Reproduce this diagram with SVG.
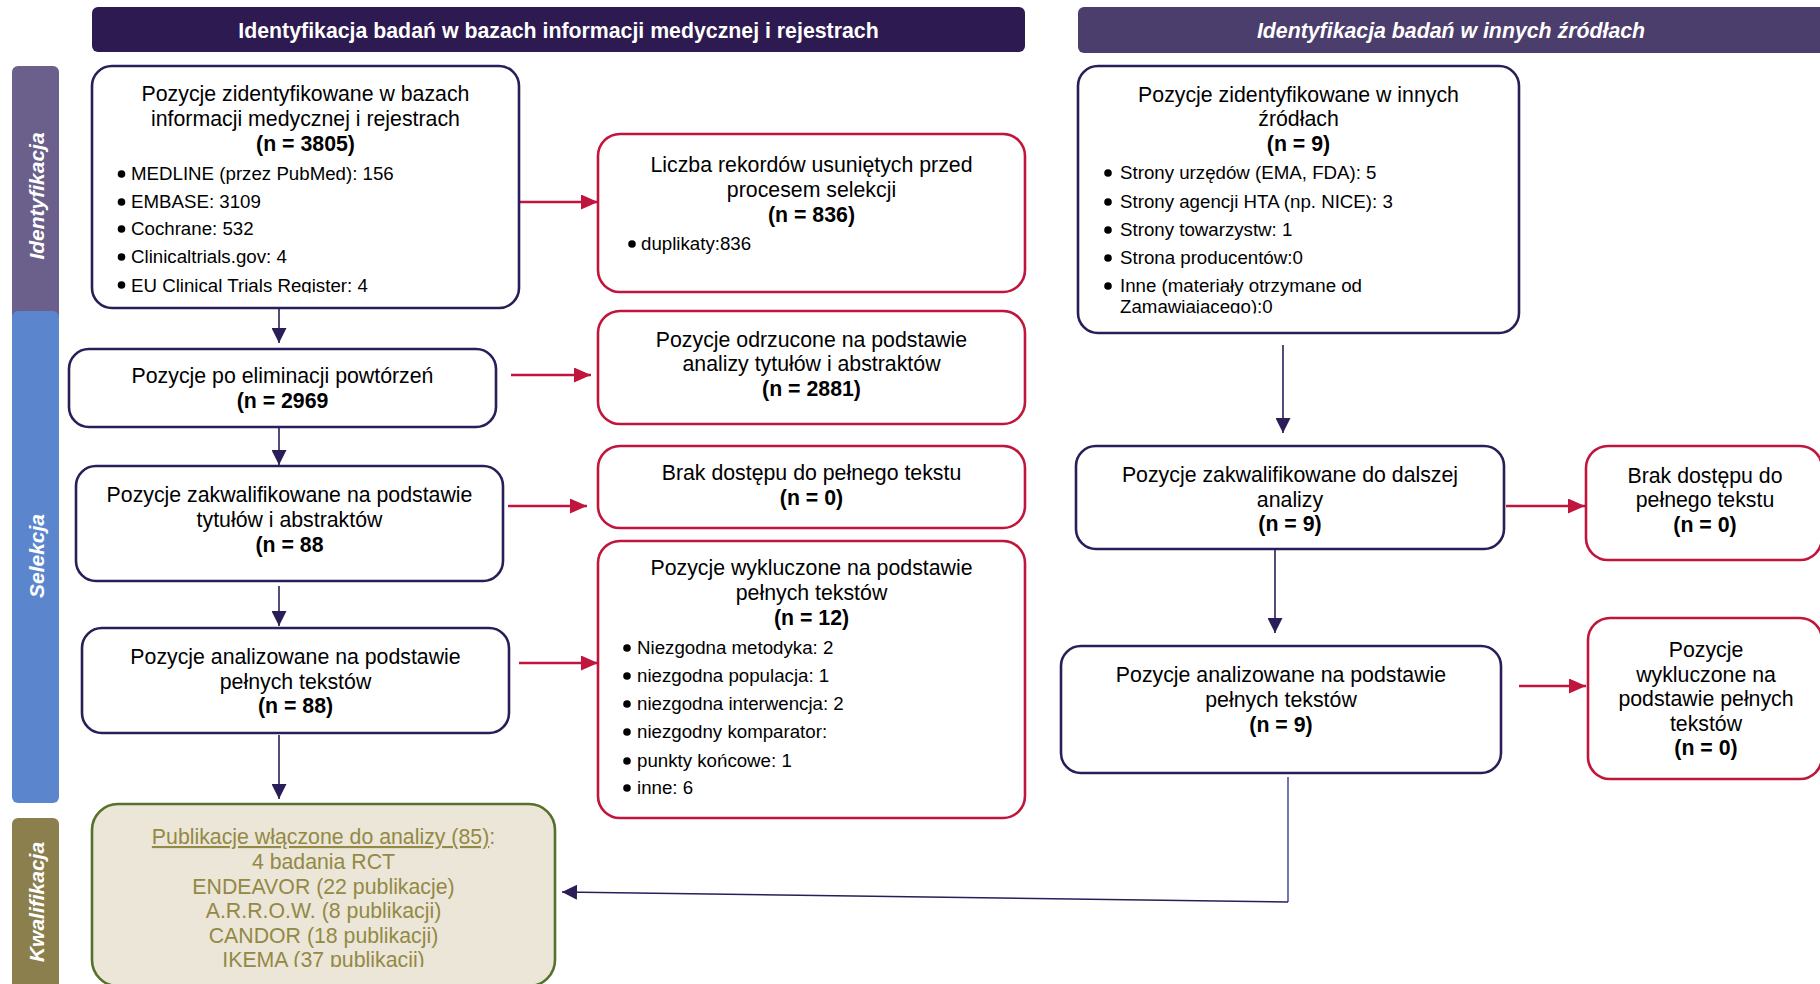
<svg xmlns="http://www.w3.org/2000/svg" width="1820" height="984" viewBox="0 0 1820 984">
  <style>
    text { font-family: "Liberation Sans", Arial, sans-serif; fill: #000; }
    .hdr { font-size: 21.3px; font-weight: bold; fill: #fff; text-anchor: middle; }
    .band { font-size: 21px; font-weight: bold; font-style: italic; fill: #fff; text-anchor: middle; }
    .t { font-size: 21.3px; text-anchor: middle; }
    .n { font-weight: bold; }
    .b { font-size: 18.7px; }
    .dot { fill: #000; }
    .nbox { fill: #fff; stroke: #2b1d57; stroke-width: 2.6; }
    .rbox { fill: #fff; stroke: #c0153c; stroke-width: 2.6; }
    .fbox { fill: #ebe6d7; stroke: #55712b; stroke-width: 2.6; }
    .ft { font-size: 21.3px; text-anchor: middle; fill: #938945; }
    .cn { fill: none; stroke: #2b1d57; stroke-width: 1.6; }
    .cr { fill: none; stroke: #c0153c; stroke-width: 2.6; }
  </style>
  <defs>
    <marker id="ahNavy" markerUnits="userSpaceOnUse" markerWidth="15" markerHeight="15" refX="15" refY="7.5" orient="auto">
      <path d="M0,0 L15,7.5 L0,15 z" fill="#2b1d57"/>
    </marker>
    <marker id="ahRed" markerUnits="userSpaceOnUse" markerWidth="17" markerHeight="15" refX="17" refY="7.5" orient="auto">
      <path d="M0,0 L17,7.5 L0,15 z" fill="#c0153c"/>
    </marker>
    <clipPath id="clipA"><rect x="92" y="66" width="427" height="227"/></clipPath>
    <clipPath id="clipJ"><rect x="1078" y="66" width="441" height="247.5"/></clipPath>
    <clipPath id="clipI"><rect x="92" y="804" width="463" height="163"/></clipPath>
  </defs>

  <!-- column headers -->
  <g id="header-databases">
    <rect x="92" y="7" width="933" height="45" rx="6" fill="#2c1a50"/>
    <text class="hdr" x="558.5" y="38">Identyfikacja badań w bazach informacji medycznej i rejestrach</text>
  </g>
  <g id="header-other">
    <rect x="1078" y="7" width="760" height="46" rx="6" fill="#4b3d6c"/>
    <text class="hdr" x="1451" y="38" font-style="italic">Identyfikacja badań w innych źródłach</text>
  </g>

  <!-- phase bands -->
  <g id="band-identyfikacja">
    <rect x="12" y="66" width="47" height="260" rx="6" fill="#6b5f8b"/>
    <text class="band" transform="translate(44,196) rotate(-90)">Identyfikacja</text>
  </g>
  <g id="band-selekcja">
    <rect x="12" y="311" width="47" height="492" rx="6" fill="#5b86cd"/>
    <text class="band" transform="translate(44,556) rotate(-90)">Selekcja</text>
  </g>
  <g id="band-kwalifikacja">
    <rect x="12" y="818" width="47" height="190" rx="6" fill="#8b7f4d"/>
    <text class="band" transform="translate(44,902) rotate(-90)">Kwalifikacja</text>
  </g>

  <!-- connectors -->
  <g id="connectors">
    <line class="cn" x1="279" y1="308" x2="279" y2="343" marker-end="url(#ahNavy)"/>
    <line class="cn" x1="279" y1="427" x2="279" y2="465" marker-end="url(#ahNavy)"/>
    <line class="cn" x1="279" y1="586" x2="279" y2="626" marker-end="url(#ahNavy)"/>
    <line class="cn" x1="279" y1="735" x2="279" y2="799" marker-end="url(#ahNavy)"/>
    <line class="cr" x1="519" y1="202" x2="598" y2="202" marker-end="url(#ahRed)"/>
    <line class="cr" x1="511" y1="375" x2="591" y2="375" marker-end="url(#ahRed)"/>
    <line class="cr" x1="508" y1="506" x2="587" y2="506" marker-end="url(#ahRed)"/>
    <line class="cr" x1="519" y1="663" x2="598" y2="663" marker-end="url(#ahRed)"/>
    <line class="cn" x1="1283" y1="345" x2="1283" y2="433" marker-end="url(#ahNavy)"/>
    <line class="cn" x1="1275" y1="544" x2="1275" y2="633" marker-end="url(#ahNavy)"/>
    <line class="cr" x1="1506" y1="506" x2="1585" y2="506" marker-end="url(#ahRed)"/>
    <line class="cr" x1="1519" y1="686" x2="1586" y2="686" marker-end="url(#ahRed)"/>
    <line x1="1288" y1="777" x2="1288" y2="902" stroke="#2a2a8a" stroke-width="1.3"/>
    <polyline class="cn" points="1288,902 562,892" stroke-width="2" marker-end="url(#ahNavy)"/>
  </g>

  <!-- left column -->
  <g id="node-identified-db">
    <rect class="nbox" x="92" y="66" width="427" height="242" rx="20"/>
    <text class="t" x="305.5" y="101">Pozycje zidentyfikowane w bazach</text>
    <text class="t" x="305.5" y="126">informacji medycznej i rejestrach</text>
    <text class="t n" x="305.5" y="151">(n = 3805)</text>
    <g clip-path="url(#clipA)">
      <circle class="dot" cx="121.5" cy="174" r="3.8"/>
      <circle class="dot" cx="121.5" cy="202" r="3.8"/>
      <circle class="dot" cx="121.5" cy="229" r="3.8"/>
      <circle class="dot" cx="121.5" cy="257" r="3.8"/>
      <circle class="dot" cx="121.5" cy="285" r="3.8"/>
      <text class="b" x="131" y="180">MEDLINE (przez PubMed): 156</text>
      <text class="b" x="131" y="208">EMBASE: 3109</text>
      <text class="b" x="131" y="235">Cochrane: 532</text>
      <text class="b" x="131" y="263">Clinicaltrials.gov: 4</text>
      <text class="b" x="131" y="292">EU Clinical Trials Register: 4</text>
    </g>
  </g>

  <g id="node-removed">
    <rect class="rbox" x="598" y="134" width="427" height="158" rx="22"/>
    <text class="t" x="811.5" y="172">Liczba rekordów usuniętych przed</text>
    <text class="t" x="811.5" y="197">procesem selekcji</text>
    <text class="t n" x="811.5" y="222">(n = 836)</text>
    <circle class="dot" cx="632" cy="244" r="3.8"/>
    <text class="b" x="641" y="250">duplikaty:836</text>
  </g>

  <g id="node-deduplicated">
    <rect class="nbox" x="69" y="349" width="427" height="78" rx="20"/>
    <text class="t" x="282.5" y="383">Pozycje po eliminacji powtórzeń</text>
    <text class="t n" x="282.5" y="408">(n = 2969</text>
  </g>

  <g id="node-rejected-abstracts">
    <rect class="rbox" x="598" y="311" width="427" height="113" rx="22"/>
    <text class="t" x="811.5" y="347">Pozycje odrzucone na podstawie</text>
    <text class="t" x="811.5" y="371">analizy tytułów i abstraktów</text>
    <text class="t n" x="811.5" y="396">(n = 2881)</text>
  </g>

  <g id="node-qualified-abstracts">
    <rect class="nbox" x="76" y="466" width="427" height="115" rx="20"/>
    <text class="t" x="289.5" y="502">Pozycje zakwalifikowane na podstawie</text>
    <text class="t" x="289.5" y="527">tytułów i abstraktów</text>
    <text class="t n" x="289.5" y="552">(n = 88</text>
  </g>

  <g id="node-no-access">
    <rect class="rbox" x="598" y="446" width="427" height="82" rx="22"/>
    <text class="t" x="811.5" y="480">Brak dostępu do pełnego tekstu</text>
    <text class="t n" x="811.5" y="505">(n = 0)</text>
  </g>

  <g id="node-excluded-fulltext">
    <rect class="rbox" x="598" y="541" width="427" height="277" rx="22"/>
    <text class="t" x="811.5" y="575">Pozycje wykluczone na podstawie</text>
    <text class="t" x="811.5" y="600">pełnych tekstów</text>
    <text class="t n" x="811.5" y="625">(n = 12)</text>
    <circle class="dot" cx="627" cy="648" r="3.8"/>
    <circle class="dot" cx="627" cy="676" r="3.8"/>
    <circle class="dot" cx="627" cy="704" r="3.8"/>
    <circle class="dot" cx="627" cy="732" r="3.8"/>
    <circle class="dot" cx="627" cy="761" r="3.8"/>
    <circle class="dot" cx="627" cy="788" r="3.8"/>
    <text class="b" x="637" y="654">Niezgodna metodyka: 2</text>
    <text class="b" x="637" y="682">niezgodna populacja: 1</text>
    <text class="b" x="637" y="710">niezgodna interwencja: 2</text>
    <text class="b" x="637" y="738">niezgodny komparator:</text>
    <text class="b" x="637" y="767">punkty końcowe: 1</text>
    <text class="b" x="637" y="794">inne: 6</text>
  </g>

  <g id="node-analyzed-fulltext">
    <rect class="nbox" x="82" y="628" width="427" height="105" rx="20"/>
    <text class="t" x="295.5" y="664">Pozycje analizowane na podstawie</text>
    <text class="t" x="295.5" y="689">pełnych tekstów</text>
    <text class="t n" x="295.5" y="713">(n = 88)</text>
  </g>

  <g id="node-included">
    <rect class="fbox" x="92" y="804" width="463" height="182" rx="26"/>
    <g clip-path="url(#clipI)">
      <text class="ft" x="323.5" y="844"><tspan text-decoration="underline">Publikacje włączone do analizy (85)</tspan>:</text>
      <text class="ft" x="323.5" y="869">4 badania RCT</text>
      <text class="ft" x="323.5" y="894">ENDEAVOR (22 publikacje)</text>
      <text class="ft" x="323.5" y="918">A.R.R.O.W. (8 publikacji)</text>
      <text class="ft" x="323.5" y="943">CANDOR (18 publikacji)</text>
      <text class="ft" x="323.5" y="967">IKEMA (37 publikacji)</text>
    </g>
  </g>

  <!-- right column -->
  <g id="node-identified-other">
    <rect class="nbox" x="1078" y="66" width="441" height="267" rx="20"/>
    <text class="t" x="1298.5" y="102">Pozycje zidentyfikowane w innych</text>
    <text class="t" x="1298.5" y="126">źródłach</text>
    <text class="t n" x="1298.5" y="151">(n = 9)</text>
    <g clip-path="url(#clipJ)">
      <circle class="dot" cx="1108" cy="173" r="3.8"/>
      <circle class="dot" cx="1108" cy="202" r="3.8"/>
      <circle class="dot" cx="1108" cy="230" r="3.8"/>
      <circle class="dot" cx="1108" cy="258" r="3.8"/>
      <circle class="dot" cx="1108" cy="286" r="3.8"/>
      <text class="b" x="1120" y="179">Strony urzędów (EMA, FDA): 5</text>
      <text class="b" x="1120" y="208">Strony agencji HTA (np. NICE): 3</text>
      <text class="b" x="1120" y="236">Strony towarzystw: 1</text>
      <text class="b" x="1120" y="264">Strona producentów:0</text>
      <text class="b" x="1120" y="292">Inne (materiały otrzymane od</text>
      <text class="b" x="1120" y="313">Zamawiającego):0</text>
    </g>
  </g>

  <g id="node-qualified-other">
    <rect class="nbox" x="1076" y="446" width="428" height="103" rx="20"/>
    <text class="t" x="1290" y="482">Pozycje zakwalifikowane do dalszej</text>
    <text class="t" x="1290" y="507">analizy</text>
    <text class="t n" x="1290" y="531">(n = 9)</text>
  </g>

  <g id="node-no-access-other">
    <rect class="rbox" x="1586" y="446" width="236" height="114" rx="22"/>
    <text class="t" x="1705" y="483">Brak dostępu do</text>
    <text class="t" x="1705" y="507">pełnego tekstu</text>
    <text class="t n" x="1705" y="532">(n = 0)</text>
  </g>

  <g id="node-analyzed-other">
    <rect class="nbox" x="1061" y="646" width="440" height="127" rx="20"/>
    <text class="t" x="1281" y="682">Pozycje analizowane na podstawie</text>
    <text class="t" x="1281" y="707">pełnych tekstów</text>
    <text class="t n" x="1281" y="732">(n = 9)</text>
  </g>

  <g id="node-excluded-other">
    <rect class="rbox" x="1588" y="618" width="234" height="161" rx="22"/>
    <text class="t" x="1706" y="657">Pozycje</text>
    <text class="t" x="1706" y="682">wykluczone na</text>
    <text class="t" x="1706" y="706">podstawie pełnych</text>
    <text class="t" x="1706" y="731">tekstów</text>
    <text class="t n" x="1706" y="755">(n = 0)</text>
  </g>
</svg>
